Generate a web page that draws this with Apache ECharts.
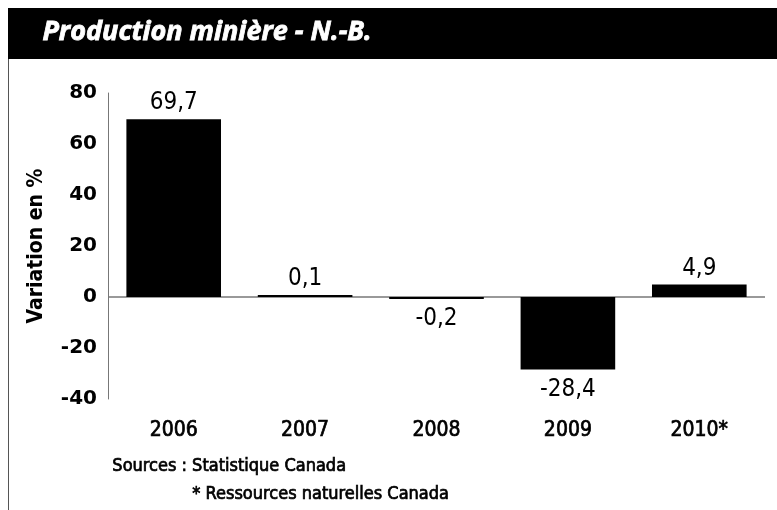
<!DOCTYPE html>
<html>
<head>
<meta charset="utf-8">
<script src="https://cdn.jsdelivr.net/npm/echarts@6/dist/echarts.min.js"></script>
<style>
  html, body { margin: 0; padding: 0; background: #fff; }
  #main { width: 777px; height: 510px; }
</style>
</head>
<body>
<div id="main"></div>
<script>
const years = ["2006", "2007", "2008", "2009", "2010*"];
const variation = [69.7, 0.1, -0.2, -28.4, 4.9];
const yTicks = [-40, -20, 0, 20, 40, 60, 80];

const narrow = '"Liberation Sans Narrow", "DejaVu Sans Condensed", "Liberation Sans", sans-serif';

const chartDom = document.getElementById("main");
const myChart = echarts.init(chartDom);

const option = {
  backgroundColor: "#fff",
  animation: false,
  grid: { left: 108, right: 12, top: 93, bottom: 111 },
  graphic: [
    {
      type: "rect",
      shape: { x: 8, y: 8, width: 769, height: 51 },
      style: { fill: "#000" },
    },
    {
      type: "line",
      shape: { x1: 8.5, y1: 59, x2: 8.5, y2: 510 },
      style: { stroke: "#555", lineWidth: 1 },
    },
    {
      type: "text",
      left: 42,
      top: 18,
      style: {
        text: "Production minière - N.-B.",
        fill: "#fff",
        stroke: "#fff",
        lineWidth: 0.8,
        font: 'italic bold 27px "Open Sans", sans-serif',
      },
    },
    {
      type: "text",
      left: 112,
      top: 457,
      style: { text: "Sources : Statistique Canada", fill: "#000", stroke: "#000", lineWidth: 0.7, font: "18px " + narrow },
    },
    {
      type: "text",
      left: 192,
      top: 485,
      style: { text: "* Ressources naturelles Canada", fill: "#000", stroke: "#000", lineWidth: 0.7, font: "18px " + narrow },
    },
  ],
  xAxis: {
    type: "category",
    data: years,
    axisLine: { onZero: false, show: false },
    axisTick: { show: false },
    axisLabel: {
      color: "#000",
      fontSize: 21,
      fontFamily: narrow,
      textBorderColor: "#000",
      textBorderWidth: 0.7,
      margin: 21,
    },
  },
  yAxis: {
    type: "value",
    min: -40,
    max: 80,
    interval: 20,
    name: "Variation en %",
    nameLocation: "middle",
    nameGap: 61,
    nameTextStyle: { color: "#000", fontSize: 21, fontWeight: "bold", fontFamily: narrow },
    axisLine: { show: true, lineStyle: { color: "#777", width: 1 } },
    axisTick: { show: false },
    splitLine: { show: false },
    axisLabel: {
      color: "#000",
      fontSize: 20,
      fontWeight: "bold",
      fontFamily: '"DejaVu Sans", sans-serif',
      margin: 11,
      formatter: (v) => (yTicks.includes(v) ? String(v) : ""),
    },
  },
  series: [
    {
      type: "bar",
      barWidth: "72%",
      barMinHeight: 2,
      z: 3,
      itemStyle: { color: "#000" },
      label: {
        show: true,
        position: "top",
        color: "#000",
        fontSize: 24,
        fontFamily: narrow,
        distance: 4,
        formatter: (p) => p.value.toFixed(1).replace(".", ","),
      },
      markLine: {
        silent: true,
        z: 1,
        symbol: "none",
        label: { show: false },
        lineStyle: { color: "#777", width: 1.5, type: "solid" },
        data: [{ yAxis: 0 }],
      },
      // negative values get their label under the bar
      data: variation.map((v) =>
        v < 0 ? { value: v, label: { position: "bottom", distance: 8 } } : v
      ),
    },
  ],
};

option && myChart.setOption(option);
</script>
</body>
</html>
